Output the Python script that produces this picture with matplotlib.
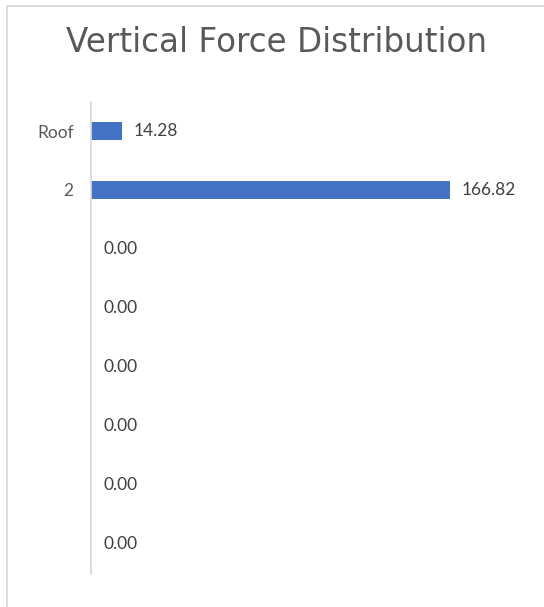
import matplotlib
matplotlib.use("Agg")
import matplotlib.pyplot as plt
from matplotlib.patches import Rectangle

# Story levels and their vertical forces
levels = ["Roof", "2", "", "", "", "", "", ""]
forces = [14.28, 166.82, 0.00, 0.00, 0.00, 0.00, 0.00, 0.00]

W, H, DPI = 544, 607, 100
fig = plt.figure(figsize=(W / DPI, H / DPI), dpi=DPI)
fig.patch.set_facecolor("white")

# chart frame (top and left edges visible)
fig.add_artist(Rectangle((6.5 / W, -0.05), 1.2, 1 - 5.5 / H + 0.05,
                         transform=fig.transFigure, fill=False,
                         edgecolor="#d9d9d9", linewidth=1.3))

ax = fig.add_axes([91 / W, 1 - 573.5 / H, (530 - 91) / W, (573.5 - 101.5) / H])

ypos = list(range(len(levels)))
ax.barh(ypos, forces, height=0.32, color="#4472c4")
ax.set_ylim(len(levels) - 0.5, -0.5)
ax.set_xlim(0, (530 - 91) / ((451 - 92) / 166.82))

ax.set_yticks(ypos)
ax.set_yticklabels(levels)
ax.tick_params(axis="y", length=0, pad=12.5, labelsize=12.5, labelcolor="#595959")
ax.set_xticks([])
for lbl in ax.get_yticklabels():
    lbl.set_fontfamily("Lato")

for s in ["top", "right", "bottom"]:
    ax.spines[s].set_visible(False)
ax.spines["left"].set_color("#d9d9d9")
ax.spines["left"].set_linewidth(1.3)

for y, v in zip(ypos, forces):
    ax.annotate(f"{v:.2f}", xy=(v, y), xytext=(12, 0), textcoords="offset pixels",
                ha="left", va="center", fontsize=12.5, color="#404040",
                family="Lato")

fig.text(0.509, 1 - 42 / H, "Vertical Force Distribution", ha="center", va="center",
         fontsize=23.5, color="#595959", family="DejaVu Sans")

fig.savefig("out.png", dpi=DPI)
